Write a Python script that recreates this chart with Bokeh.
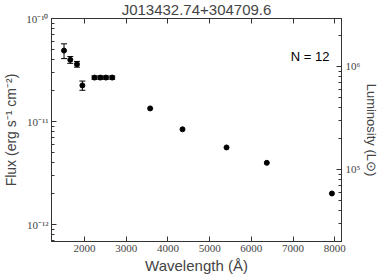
import numpy as np
from bokeh.plotting import figure
from bokeh.models import (Range1d, LogScale, LogAxis, LinearAxis, FixedTicker,
                          Whisker, ColumnDataSource, Label, TeeHead, CustomJSTickFormatter)
from bokeh.embed import file_html
from bokeh.resources import INLINE

TITLE = "J013432.74+304709.6"
N_LABEL = "N = 12"
X_LABEL = "Wavelength (Å)"
Y_LABEL = "Flux (erg s⁻¹ cm⁻²)"
R_LABEL = "Luminosity (L⊙)"

WAVE = [1510, 1660, 1820, 1950, 2240, 2380, 2515, 2665, 3575, 4350, 5405, 6370, 7930]
FLUX = [4.88e-11, 3.97e-11, 3.60e-11, 2.24e-11, 2.67e-11, 2.67e-11, 2.67e-11, 2.67e-11,
        1.34e-11, 8.4e-12, 5.6e-12, 3.97e-12, 2.0e-12]
FLUX_ERR = [0.8e-11, 0.3e-11, 0.23e-11, 0.23e-11, 0.1e-11, 0.1e-11, 0.1e-11, 0.1e-11,
            0, 0, 0, 0, 0]

XTICKS = [2000, 3000, 4000, 5000, 6000, 7000, 8000]
YTICKS = [1e-12, 1e-11, 1e-10]
YTICK_LABELS = ["10⁻¹²", "10⁻¹¹", "10⁻¹⁰"]
LTICKS = [1e5, 1e6]
LTICK_LABELS = ["10⁵", "10⁶"]
LUM_PER_FLUX = 2.92e16
X_RANGE = (1210, 8160)
Y_RANGE = (6.84e-13, 1e-10)

SERIF = "Liberation Serif"
SANS = "Liberation Sans"
SPINE = "#333333"


def minor_list(lo_exp, hi_exp):
    out = []
    for e in range(lo_exp, hi_exp + 1):
        for k in range(2, 10):
            out.append(k * 10.0 ** e)
    return out


p = figure(width=389, height=281, x_range=Range1d(*X_RANGE), y_range=Range1d(*Y_RANGE),
           y_axis_type="log", output_backend="svg", toolbar_location=None,
           title=TITLE, min_border_left=55, min_border_right=44, min_border_top=22,
           min_border_bottom=36, margin=(-4, 0, 0, -4))
p.xgrid.visible = False
p.ygrid.visible = False
p.outline_line_color = SPINE
p.background_fill_color = "white"
p.border_fill_color = "white"

p.title.text_font = SANS
p.title.text_font_size = "15px"
p.title.text_font_style = "normal"
p.title.align = "center"
p.title.standoff = 2
p.title.offset = 0

# data
valid = [i for i, e in enumerate(FLUX_ERR) if e > 0]
err_src = ColumnDataSource(dict(
    x=[WAVE[i] for i in valid],
    upper=[FLUX[i] + FLUX_ERR[i] for i in valid],
    lower=[FLUX[i] - FLUX_ERR[i] for i in valid]))
wh = Whisker(source=err_src, base="x", upper="upper", lower="lower",
             line_color="black", line_width=1,
             upper_head=TeeHead(size=6, line_color="black", line_width=1),
             lower_head=TeeHead(size=6, line_color="black", line_width=1))
p.add_layout(wh)
p.scatter(WAVE, FLUX, size=5, color="black")

# bottom axis
xa = p.xaxis[0]
xa.ticker = FixedTicker(ticks=XTICKS)
xa.axis_label = X_LABEL
xa.axis_label_text_font = SANS
xa.axis_label_text_font_size = "15px"
xa.axis_label_text_font_style = "normal"
xa.axis_label_standoff = 2
xa.major_label_text_font = SERIF
xa.major_label_text_font_size = "11px"
xa.major_label_standoff = 3
xa.major_tick_in = 5
xa.major_tick_out = 0
xa.minor_tick_line_color = None
xa.axis_line_color = SPINE
xa.major_tick_line_color = SPINE

# left axis
ya = p.yaxis[0]
ya.ticker = FixedTicker(ticks=YTICKS, minor_ticks=minor_list(-13, -11))
ya.major_label_overrides = dict(zip(YTICKS, YTICK_LABELS))
ya.axis_label = Y_LABEL
ya.axis_label_text_font = SANS
ya.axis_label_text_font_size = "14px"
ya.axis_label_text_font_style = "normal"
ya.axis_label_standoff = 4
ya.major_label_text_font = SERIF
ya.major_label_text_font_size = "11px"
ya.major_label_standoff = 3
ya.major_tick_in = 5
ya.major_tick_out = 0
ya.minor_tick_in = 3
ya.minor_tick_out = 0
ya.axis_line_color = SPINE
ya.major_tick_line_color = SPINE
ya.minor_tick_line_color = SPINE

# right luminosity axis
p.extra_y_ranges = {"lum": Range1d(Y_RANGE[0] * LUM_PER_FLUX, Y_RANGE[1] * LUM_PER_FLUX)}
p.extra_y_scales = {"lum": LogScale()}
ra = LogAxis(y_range_name="lum",
             ticker=FixedTicker(ticks=LTICKS, minor_ticks=minor_list(4, 6)),
             major_label_overrides=dict(zip(LTICKS, LTICK_LABELS)),
             axis_label=R_LABEL, axis_label_text_font=SANS,
             axis_label_text_font_size="13px", axis_label_text_font_style="normal",
             axis_label_standoff=1, major_label_text_font=SERIF,
             major_label_text_font_size="11px", major_label_standoff=4,
             major_tick_in=5, major_tick_out=0, minor_tick_in=3, minor_tick_out=0,
             axis_line_color=SPINE, major_tick_line_color=SPINE,
             minor_tick_line_color=SPINE)
p.add_layout(ra, "right")

# top axis (ticks only)
ta = LinearAxis(ticker=FixedTicker(ticks=XTICKS),
                formatter=CustomJSTickFormatter(code="return ''"),
                major_label_standoff=0, major_tick_in=5, major_tick_out=0,
                minor_tick_line_color=None, axis_line_color=SPINE,
                major_tick_line_color=SPINE)
p.add_layout(ta, "above")

p.add_layout(Label(x=7873, y=4.31e-11, text=N_LABEL, text_align="right",
                   text_baseline="alphabetic", text_font=SANS,
                   text_font_size="13px", text_color="black"))

open("out.html", "w").write(file_html(p, INLINE))
